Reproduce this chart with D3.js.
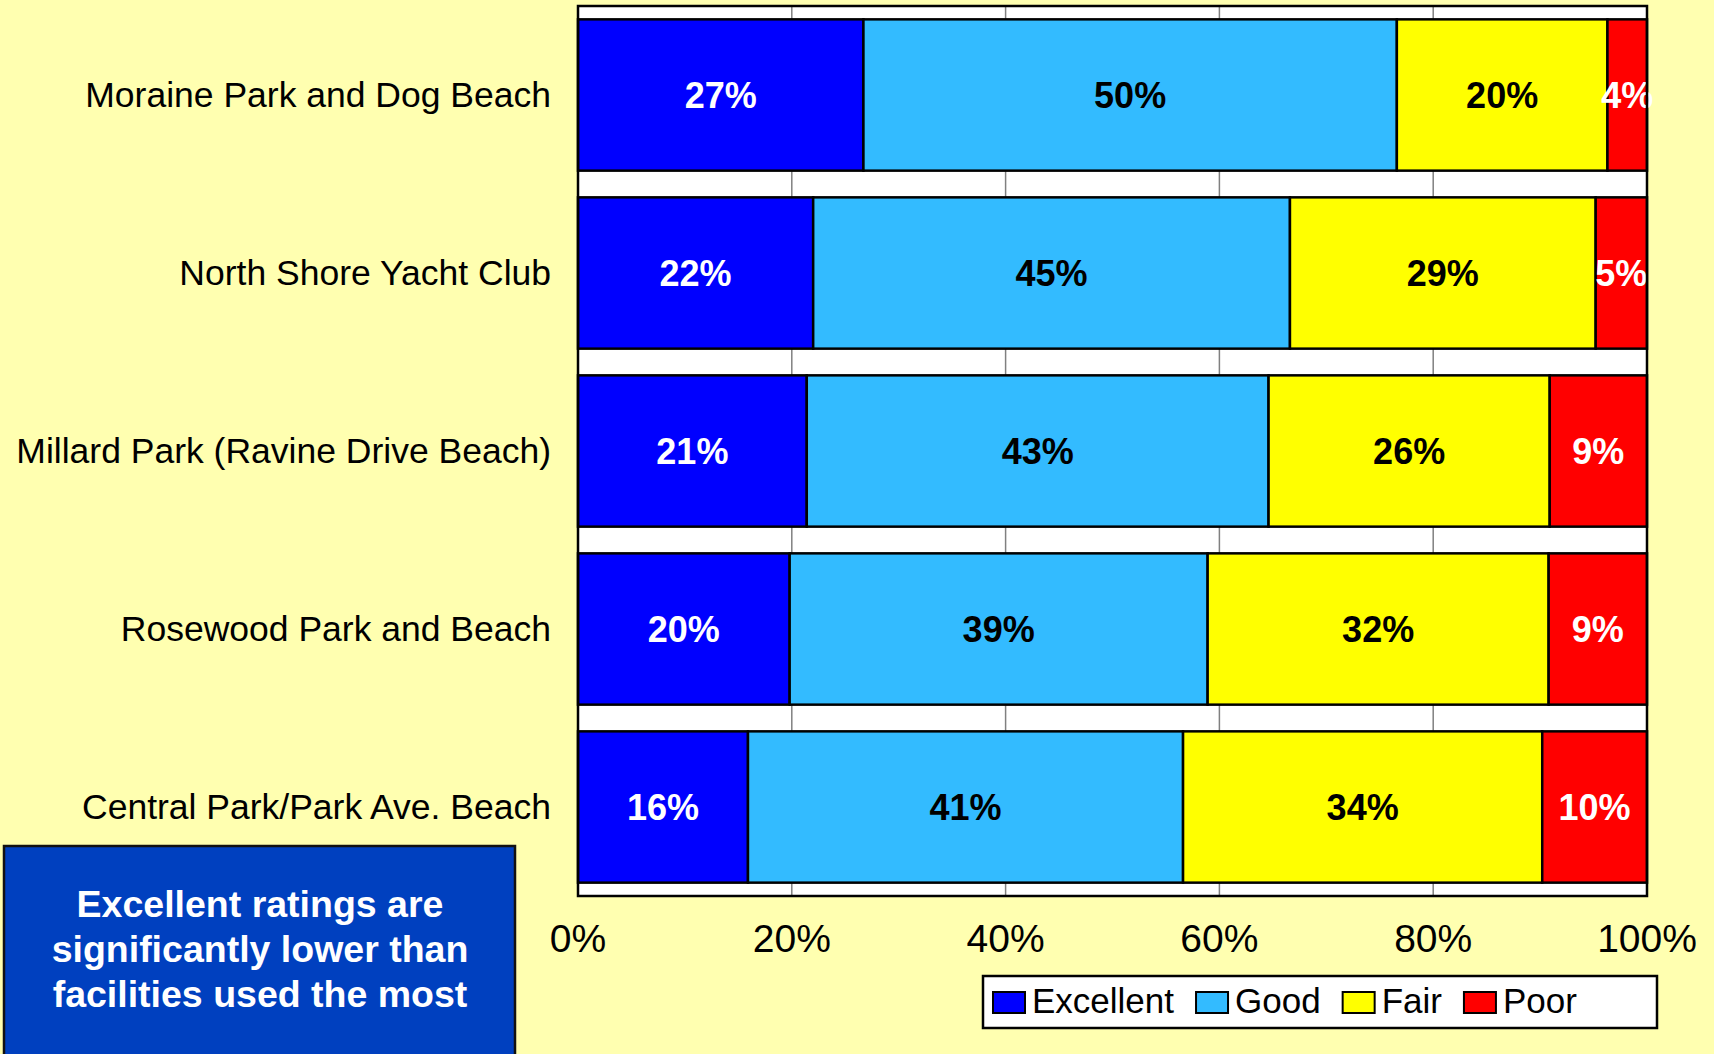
<!DOCTYPE html>
<html>
<head>
<meta charset="utf-8">
<script src="https://cdn.jsdelivr.net/npm/d3@7/dist/d3.min.js"></script>
<style>
  html, body { margin: 0; padding: 0; background: #FFFFB0; overflow: hidden; }
  svg { display: block; font-family: Arial, "Liberation Sans", sans-serif; }
</style>
</head>
<body>
<svg id="chart" width="1714" height="1054"></svg>
<script>
const categories = [
  "Moraine Park and Dog Beach",
  "North Shore Yacht Club",
  "Millard Park (Ravine Drive Beach)",
  "Rosewood Park and Beach",
  "Central Park/Park Ave. Beach"
];
const seriesNames = ["Excellent", "Good", "Fair", "Poor"];
const excellent = [26.7, 22.0, 21.4, 19.8, 15.9];
const good      = [49.9, 44.6, 43.2, 39.1, 40.7];
const fair      = [19.7, 28.6, 26.3, 31.9, 33.6];
const poor      = [3.7, 4.8, 9.1, 9.2, 9.8];
const tickValues = [0, 20, 40, 60, 80, 100];
const tickLabels = ["0%", "20%", "40%", "60%", "80%", "100%"];
const noteLines = ["Excellent ratings are", "significantly lower than", "facilities used the most"];

const colors = ["#0000FF", "#33BBFF", "#FFFF00", "#FF0000"];
const labelColors = ["#FFFFFF", "#000000", "#000000", "#FFFFFF"];

const svg = d3.select("#chart");
svg.append("rect").attr("width", 1714).attr("height", 1054).attr("fill", "#FFFFB0");

const pLeft = 578, pRight = 1647, pTop = 6, pBottom = 896;
const x = d3.scaleLinear().domain([0, 100]).range([pLeft, pRight]);
const y = d3.scaleBand().domain(categories).range([pTop, pBottom]).paddingInner(0.15).paddingOuter(0.075);

// plot area
svg.append("rect").attr("x", pLeft).attr("y", pTop).attr("width", pRight - pLeft).attr("height", pBottom - pTop)
  .attr("fill", "#FFFFFF");

// gridlines
svg.append("g").selectAll("line").data(tickValues.slice(1, -1)).join("line")
  .attr("x1", d => x(d)).attr("x2", d => x(d)).attr("y1", pTop).attr("y2", pBottom)
  .attr("stroke", "#808080").attr("stroke-width", 1.5);

// stacked data
const rows = categories.map((c, i) => ({cat: c, Excellent: excellent[i], Good: good[i], Fair: fair[i], Poor: poor[i]}));
const stack = d3.stack().keys(seriesNames)(rows);

const gBars = svg.append("g");
stack.forEach((layer, si) => {
  gBars.append("g").selectAll("rect").data(layer).join("rect")
    .attr("x", d => x(d[0])).attr("y", d => y(d.data.cat))
    .attr("width", d => x(d[1]) - x(d[0])).attr("height", y.bandwidth())
    .attr("fill", colors[si]).attr("stroke", "#000").attr("stroke-width", 2.5);
});
stack.forEach((layer, si) => {
  gBars.append("g").selectAll("text").data(layer).join("text")
    .attr("x", d => (x(d[0]) + x(d[1])) / 2)
    .attr("y", d => y(d.data.cat) + y.bandwidth() / 2)
    .attr("dy", "0.35em").attr("text-anchor", "middle")
    .attr("font-size", 36).attr("font-weight", "bold").attr("fill", labelColors[si])
    .text(d => Math.round(d[1] - d[0]) + "%");
});

// plot border
svg.append("rect").attr("x", pLeft).attr("y", pTop).attr("width", pRight - pLeft).attr("height", pBottom - pTop)
  .attr("fill", "none").attr("stroke", "#000").attr("stroke-width", 2.5);

// category labels
svg.append("g").selectAll("text").data(categories).join("text")
  .attr("x", 551).attr("y", d => y(d) + y.bandwidth() / 2).attr("dy", "0.34em")
  .attr("text-anchor", "end").attr("font-size", 35.5).attr("fill", "#000").text(d => d);

// x tick labels
svg.append("g").selectAll("text").data(tickValues).join("text")
  .attr("x", d => x(d)).attr("y", 952).attr("text-anchor", "middle")
  .attr("font-size", 39).attr("fill", "#000").text((d, i) => tickLabels[i]);

// note box
svg.append("rect").attr("x", 4).attr("y", 846).attr("width", 511).attr("height", 230)
  .attr("fill", "#0040BF").attr("stroke", "#111").attr("stroke-width", 2.5);
svg.append("g").selectAll("text").data(noteLines).join("text")
  .attr("x", 260).attr("y", (d, i) => 917 + i * 45).attr("text-anchor", "middle")
  .attr("font-size", 37.5).attr("font-weight", "bold").attr("fill", "#FFFFFF").text(d => d);

// legend
const lg = svg.append("g");
lg.append("rect").attr("x", 983).attr("y", 976).attr("width", 674).attr("height", 52)
  .attr("fill", "#FFFFFF").attr("stroke", "#000").attr("stroke-width", 2.5);
let cx = 993;
seriesNames.forEach((name, i) => {
  lg.append("rect").attr("x", cx).attr("y", 992).attr("width", 32).attr("height", 21)
    .attr("fill", colors[i]).attr("stroke", "#000").attr("stroke-width", 2);
  const t = lg.append("text").attr("x", cx + 39).attr("y", 1013).attr("font-size", 35).attr("fill", "#000").text(name);
  const w = t.node().getComputedTextLength();
  cx = cx + 39 + w + 22;
});
</script>
</body>
</html>
